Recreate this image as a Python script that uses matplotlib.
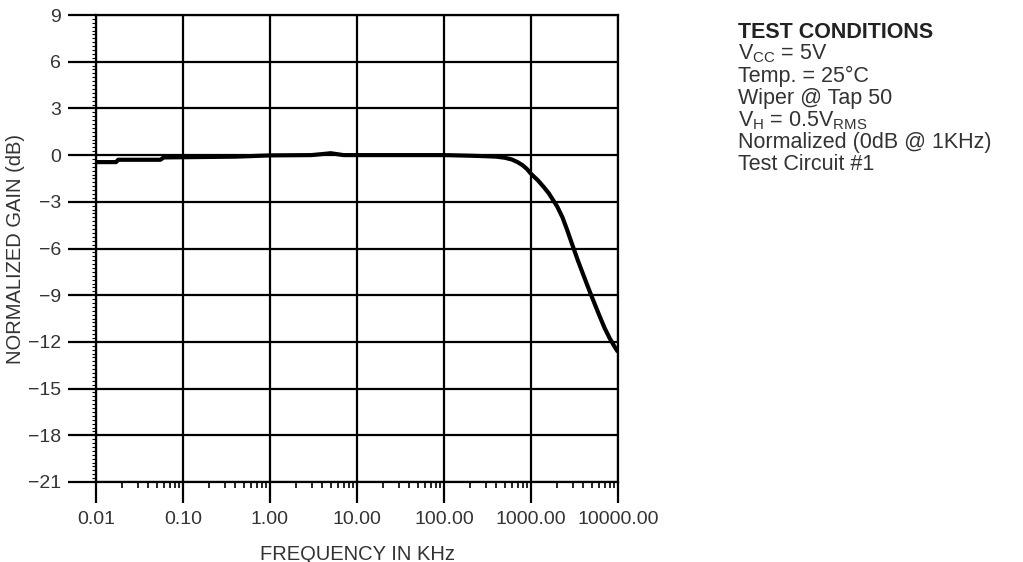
import matplotlib.pyplot as plt
from matplotlib.ticker import FixedLocator, LogLocator, NullFormatter, MultipleLocator

plt.rcParams['font.family'] = ['Liberation Sans', 'DejaVu Sans']
plt.rcParams['mathtext.default'] = 'regular'

# Frequency response, normalized gain vs frequency
freq_khz = [0.01, 0.017, 0.018, 0.055, 0.06, 0.4, 1, 3, 5, 7, 20, 100, 200, 300,
            400, 500, 600, 700, 800, 900, 1000, 1200, 1400, 1600, 1800, 2000, 2300,
            2600, 3000, 3500, 4000, 4500, 5000, 6000, 7000, 8000, 9000, 10000]
gain_db = [-0.45, -0.45, -0.3, -0.3, -0.15, -0.1, -0.02, 0, 0.12, 0, 0, 0, -0.04, -0.07,
           -0.1, -0.17, -0.28, -0.45, -0.65, -0.9, -1.2, -1.62, -2.05, -2.45, -2.9, -3.3, -4.0,
           -4.8, -5.8, -6.85, -7.7, -8.45, -9.1, -10.2, -11.1, -11.75, -12.25, -12.65]

x_ticks = [0.01, 0.1, 1, 10, 100, 1000, 10000]
x_labels = ["0.01", "0.10", "1.00", "10.00", "100.00", "1000.00", "10000.00"]
y_ticks = [9, 6, 3, 0, -3, -6, -9, -12, -15, -18, -21]

conditions = [
    "V$_{CC}$ = 5V",
    "Temp. = 25°C",
    "Wiper @ Tap 50",
    "V$_{H}$ = 0.5V$_{RMS}$",
    "Normalized (0dB @ 1KHz)",
    "Test Circuit #1",
]

text_color = "#333333"

fig = plt.figure(figsize=(10.23, 5.62), dpi=100)
ax = fig.add_axes([96 / 1023, 1 - 482 / 562, 522 / 1023, 467 / 562])

ax.plot(freq_khz, gain_db, color="black", linewidth=3, solid_capstyle="butt")

ax.set_xscale("log")
ax.set_xlim(0.01, 10000)
ax.set_ylim(-21, 9)

ax.xaxis.set_major_locator(FixedLocator(x_ticks))
ax.set_xticklabels(x_labels)
ax.xaxis.set_minor_locator(LogLocator(base=10, subs=range(2, 10), numticks=20))
ax.xaxis.set_minor_formatter(NullFormatter())
ax.yaxis.set_major_locator(FixedLocator(y_ticks))
ax.yaxis.set_minor_locator(MultipleLocator(0.25))

ax.grid(True, which="major", color="black", linewidth=1.6)
for s in ax.spines.values():
    s.set_linewidth(1.6)

ax.tick_params(axis="x", which="major", direction="out", length=15, width=1.6,
               pad=6, labelsize=14, labelcolor=text_color)
ax.tick_params(axis="x", which="minor", direction="out", length=4, width=1.2)
ax.tick_params(axis="y", which="major", direction="out", length=20, width=1.6,
               pad=5, labelsize=14, labelcolor=text_color)
ax.tick_params(axis="y", which="minor", direction="out", length=3, width=0.8)

ax.set_xlabel("FREQUENCY IN KHz", fontsize=14.5, color=text_color, labelpad=12)
ax.set_ylabel("NORMALIZED GAIN (dB)", fontsize=14.5, color=text_color, labelpad=2)

fig.text(738 / 1023, 1 - 32 / 562, "TEST CONDITIONS", fontsize=15.5,
         fontweight="bold", color="#222222", va="center", ha="left")
for i, line in enumerate(conditions):
    y = 54 + i * 22.2
    fig.text(738 / 1023, 1 - y / 562, line, fontsize=15.5, color=text_color,
             va="center", ha="left")

fig.savefig("out.png", dpi=100)
